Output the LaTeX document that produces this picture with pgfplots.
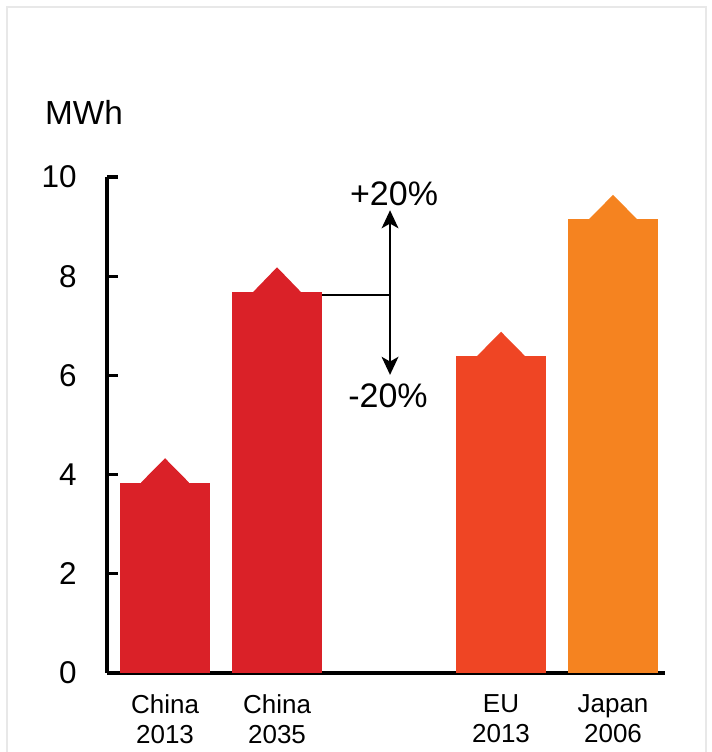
\documentclass[border=0pt]{standalone}
\usepackage{fontspec}
\setmainfont{Liberation Sans}
\usepackage{pgfplots}
\pgfplotsset{compat=1.18}
\usetikzlibrary{arrows.meta}
\definecolor{cnred}{RGB}{218,33,40}
\definecolor{eured}{RGB}{239,69,36}
\definecolor{jporange}{RGB}{245,131,32}
\definecolor{framegray}{RGB}{232,232,232}
\begin{document}
\begin{tikzpicture}
\useasboundingbox (0,0) rectangle (534pt,564pt);
\draw[framegray, line width=1.2pt] (5.25pt,0) -- (5.25pt,558.75pt) -- (529.5pt,558.75pt) -- (529.5pt,0);
\begin{axis}[
  at={(80.25pt,59.25pt)}, anchor=south west,
  scale only axis, width=418.5pt, height=372pt,
  xmin=-0.518, xmax=4.464, ymin=0, ymax=10,
  axis x line*=bottom, axis y line*=left,
  axis line style={line width=2.3pt, black},
  clip=false,
  ytick={0,2,4,6,8,10},
  tick align=inside,
  major tick length=8.25pt,
  ytick style={line width=2.3pt, black},
  /pgf/number format/assume math mode=true,
  yticklabel style={font=\fontsize{23.6}{26}\selectfont, anchor=east, inner sep=0pt, xshift=-22.5pt},
  xtick={0,1,3,4},
  xticklabels={{China\\2013},{China\\2035},{EU\\2013},{Japan\\2006}},
  xtick style={draw=none},
  xticklabel style={align=center, font=\fontsize{19.5}{22.5}\selectfont, anchor=north, inner sep=0pt, yshift=-16pt},
]
% bars
\addplot[ybar, bar width=0.804, bar shift=0pt, fill=cnred, draw=none] coordinates {(0,3.84)};
\addplot[ybar, bar width=0.804, bar shift=0pt, fill=cnred, draw=none] coordinates {(1,7.68)};
\addplot[ybar, bar width=0.804, bar shift=0pt, fill=eured, draw=none] coordinates {(3,6.39)};
\addplot[ybar, bar width=0.804, bar shift=0pt, fill=jporange, draw=none] coordinates {(4,9.15)};
% peaked caps
\addplot[fill=cnred, draw=none] coordinates {(-0.214,3.84) (0,4.33) (0.214,3.84) (0.214,3.78) (-0.214,3.78)} -- cycle;
\addplot[fill=cnred, draw=none] coordinates {(0.786,7.68) (1,8.18) (1.214,7.68) (1.214,7.62) (0.786,7.62)} -- cycle;
\addplot[fill=eured, draw=none] coordinates {(2.786,6.39) (3,6.88) (3.214,6.39) (3.214,6.33) (2.786,6.33)} -- cycle;
\addplot[fill=jporange, draw=none] coordinates {(3.786,9.15) (4,9.64) (4.214,9.15) (4.214,9.09) (3.786,9.09)} -- cycle;
% reference line and arrows
\addplot[black, line width=2pt] coordinates {(1.402,7.62) (2.009,7.62)};
\addplot[black, line width=2pt, -{Stealth[length=13.5pt,width=12.5pt,inset=3.5pt]}] coordinates {(2.009,7.62) (2.009,9.33)};
\addplot[black, line width=2pt, -{Stealth[length=13.5pt,width=12.5pt,inset=3.5pt]}] coordinates {(2.009,7.62) (2.009,6.01)};
\node[anchor=base, font=\fontsize{25.5}{28}\selectfont] at (axis cs:2.045,9.435) {+20\%};
\node[anchor=base, font=\fontsize{25.5}{28}\selectfont] at (axis cs:1.991,5.36) {-20\%};
\node[anchor=base, font=\fontsize{25}{28}\selectfont] at (axis cs:-0.723,11.05) {MWh};
\end{axis}
\end{tikzpicture}
\end{document}
